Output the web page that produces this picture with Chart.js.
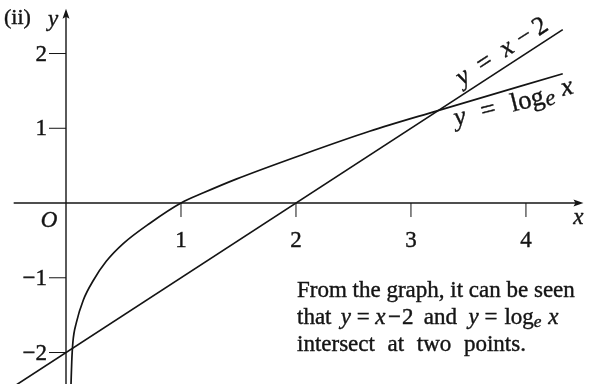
<!DOCTYPE html>
<html>
<head>
<meta charset="utf-8">
<script src="https://cdn.jsdelivr.net/npm/chart.js@4.4.1/dist/chart.umd.min.js"></script>
<style>
  html, body { margin: 0; padding: 0; background: #fff; }
  #graph { display: block; }
</style>
</head>
<body>
<canvas id="graph" width="590" height="384"></canvas>
<script>
// y = x - 2, straight line through the whole window
const lineX = [-0.43, 4.32];
const lineY = [-2.43, 2.32];

// y = log_e x
const logX = [0.043, 0.05, 0.06, 0.09, 0.15, 0.24, 0.35, 0.5, 0.73, 1.0, 1.2, 1.48, 2.06, 2.64, 3.22, 4.32];
const logY = [-2.45, -2.12, -1.86, -1.6, -1.3, -1.03, -0.78, -0.54, -0.27, 0, 0.14, 0.32, 0.65, 0.96, 1.23, 1.73];

const xTicks = [1, 2, 3, 4];
const xTickLabels = ['1', '2', '3', '4'];
const yTicks = [2, 1, -1, -2];
const yTickLabels = ['2', '1', '−1', '−2'];

const ink = '#141414';
const serif = '"Liberation Serif", "DejaVu Serif", serif';

function seg(ctx, x1, y1, x2, y2) {
  ctx.beginPath();
  ctx.moveTo(x1, y1);
  ctx.lineTo(x2, y2);
  ctx.stroke();
}

function arrowHead(ctx, tx, ty, dir) {
  const len = 10, half = 3.5;
  ctx.beginPath();
  if (dir === 'right') {
    ctx.moveTo(tx, ty);
    ctx.lineTo(tx - len, ty - half);
    ctx.lineTo(tx - len + 2, ty);
    ctx.lineTo(tx - len, ty + half);
  } else {
    ctx.moveTo(tx, ty);
    ctx.lineTo(tx - half, ty + len);
    ctx.lineTo(tx, ty + len - 2);
    ctx.lineTo(tx + half, ty + len);
  }
  ctx.closePath();
  ctx.fill();
}

// slightly heavier glyphs, like old print
function inkText(ctx, txt, x, y) {
  ctx.fillText(txt, x, y);
  ctx.strokeText(txt, x, y);
}

// draws a run of pieces one after another; a number is a gap in em
function runs(ctx, parts, x, y, size) {
  let cx = x;
  ctx.lineWidth = 0.4;
  ctx.strokeStyle = ink;
  for (const p of parts) {
    if (typeof p === 'number') { cx += p * size; continue; }
    const [txt, style, dy, scale] = p;
    const s = size * (scale || 1);
    ctx.font = (style === 'i' ? 'italic ' : '') + s + 'px ' + serif;
    inkText(ctx, txt, cx, y + (dy || 0) * size);
    cx += ctx.measureText(txt).width;
  }
}

const axesPlugin = {
  id: 'axes',
  beforeDatasetsDraw(chart) {
    const { ctx, scales: { x, y } } = chart;
    const x0 = x.getPixelForValue(0), y0 = y.getPixelForValue(0);
    ctx.save();
    ctx.strokeStyle = ink;
    ctx.fillStyle = ink;
    ctx.lineWidth = 1.4;
    seg(ctx, x.getPixelForValue(-0.455), y0, x.getPixelForValue(4.44), y0);
    arrowHead(ctx, x.getPixelForValue(4.5), y0, 'right');
    seg(ctx, x0, chart.height, x0, y.getPixelForValue(2.55));
    arrowHead(ctx, x0, y.getPixelForValue(2.6), 'up');

    ctx.lineWidth = 1;
    xTicks.forEach(v => seg(ctx, x.getPixelForValue(v), y0, x.getPixelForValue(v), y0 + 14));
    yTicks.forEach(v => seg(ctx, x0 - 17, y.getPixelForValue(v), x0, y.getPixelForValue(v)));
    ctx.restore();
  },
  afterDatasetsDraw(chart) {
    const { ctx, scales: { x, y } } = chart;
    const x0 = x.getPixelForValue(0), y0 = y.getPixelForValue(0);
    ctx.save();
    ctx.fillStyle = ink;
    ctx.strokeStyle = ink;
    ctx.lineWidth = 0.4;
    ctx.textBaseline = 'middle';

    ctx.font = '23px ' + serif;
    ctx.textAlign = 'center';
    xTicks.forEach((v, i) => inkText(ctx, xTickLabels[i], x.getPixelForValue(v), y0 + 38));
    ctx.textAlign = 'right';
    yTicks.forEach((v, i) => inkText(ctx, yTickLabels[i], x0 - 19, y.getPixelForValue(v) + 1));

    ctx.font = 'italic 23px ' + serif;
    ctx.textAlign = 'center';
    inkText(ctx, 'O', x0 - 17, y0 + 18);
    inkText(ctx, 'x', x.getPixelForValue(4.5) - 5, y0 + 15);
    ctx.textAlign = 'left';
    ctx.font = '22px ' + serif;
    inkText(ctx, '(ii)', 4, 18);
    ctx.font = 'italic 23px ' + serif;
    inkText(ctx, 'y', x0 - 18, 20);

    // curve labels, turned to follow each graph
    ctx.textBaseline = 'alphabetic';
    ctx.save();
    ctx.translate(462, 86);
    ctx.rotate(-33 * Math.PI / 180);
    runs(ctx, [['y', 'i'], 0.5, ['=', 'r'], 0.5, ['x', 'i'], 0.3, ['−', 'r'], 0.2, ['2', 'r']], 0, 0, 26);
    ctx.restore();

    ctx.save();
    ctx.translate(456, 126);
    ctx.rotate(-14 * Math.PI / 180);
    runs(ctx, [['y', 'i'], 0.6, ['=', 'r'], 0.6, ['log', 'r'], 0.03, ['e', 'i', 0.1, 0.85], 0.3, ['x', 'i', -0.12]], 0, 0, 26.5);
    ctx.restore();

    // note under the graph
    const size = 23, left = 297;
    ctx.textBaseline = 'middle';
    runs(ctx, [['From the graph, it can be seen', 'r']], left, 291, size);
    runs(ctx, [['that', 'r'], 0.4, ['y', 'i'], 0.25, ['=', 'r'], 0.25, ['x', 'i'], 0.1, ['−', 'r'], 0.05, ['2', 'r'],
      0.45, ['and', 'r'], 0.5, ['y', 'i'], 0.25, ['=', 'r'], 0.3, ['log', 'r'], ['e', 'i', 0.2, 0.75], 0.3, ['x', 'i']],
      left, 318, size);
    runs(ctx, [['intersect', 'r'], 0.55, ['at', 'r'], 0.55, ['two', 'r'], 0.55, ['points.', 'r']], left, 345, size);
    ctx.restore();
  }
};

new Chart(document.getElementById('graph'), {
  type: 'scatter',
  data: {
    datasets: [
      {
        data: lineX.map((v, i) => ({ x: v, y: lineY[i] })),
        showLine: true,
        borderColor: ink,
        borderWidth: 1.7,
        pointRadius: 0
      },
      {
        data: logX.map((v, i) => ({ x: v, y: logY[i] })),
        showLine: true,
        cubicInterpolationMode: 'monotone',
        borderColor: ink,
        borderWidth: 1.7,
        pointRadius: 0
      }
    ]
  },
  options: {
    responsive: false,
    animation: false,
    devicePixelRatio: 1,
    layout: { padding: 0 },
    events: [],
    plugins: {
      legend: { display: false },
      tooltip: { enabled: false }
    },
    scales: {
      x: { type: 'linear', min: -0.574, max: 4.557, display: false },
      y: { type: 'linear', min: -2.421, max: 2.716, display: false }
    }
  },
  plugins: [axesPlugin]
});
</script>
</body>
</html>
